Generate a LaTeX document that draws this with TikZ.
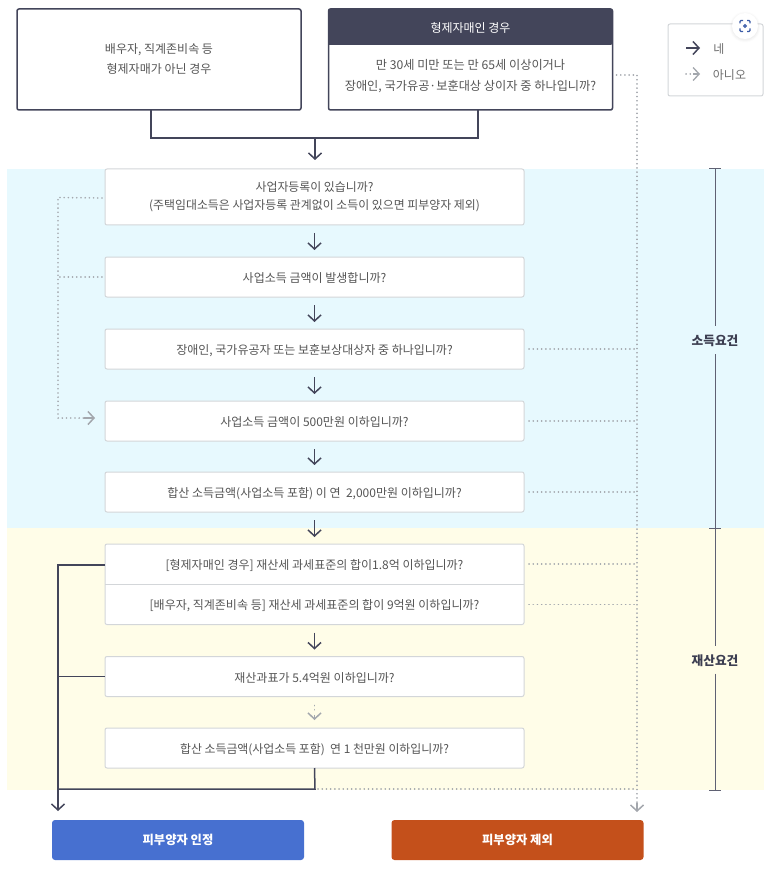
\documentclass[tikz,border=0pt]{standalone}
\usepackage{fontspec}
\setmainfont{Noto Sans CJK KR}
\usetikzlibrary{arrows.meta,calc}
\definecolor{ink}{HTML}{43455A}
\definecolor{txt}{HTML}{555555}
\definecolor{dotc}{HTML}{A3A7AD}
\definecolor{frame}{HTML}{D3D6D9}
\definecolor{bgblue}{HTML}{E7F9FE}
\definecolor{bgyel}{HTML}{FFFDE8}
\definecolor{okblue}{HTML}{4770D0}
\definecolor{noor}{HTML}{C4501B}
\tikzset{
  every node/.style={inner sep=0pt,outer sep=0pt,font=\fontsize{12}{21}\selectfont,text=txt,align=center},
  lowered/.style={execute at begin node={\rule{0pt}{12.6pt}}},
  topbox/.style={draw=ink,line width=1.5pt,fill=white,rounded corners=2pt,minimum width=284pt,minimum height=101pt},
  q/.style={draw=frame,line width=1pt,fill=white,rounded corners=2pt,minimum width=419pt,minimum height=40pt,lowered},
  qplain/.style={fill=white,minimum width=419pt,minimum height=40pt,lowered},
  result/.style={rounded corners=3pt,minimum width=252pt,minimum height=40pt,text=white,font=\fontsize{12.3}{14}\selectfont\bfseries},
  yes/.style={draw=ink,line width=1.5pt},
  yesarr/.style={yes,-{Straight Barb[length=6pt,width=13pt,line width=1.5pt]}},
  no/.style={draw=dotc,line width=1.7pt,line cap=round,dash pattern=on 0.1pt off 4.1pt},
  noarr/.style={draw=dotc,line width=1.3pt},
  notip/.style={draw=dotc,line width=1.5pt,-{Straight Barb[length=6pt,width=13pt,line width=1.5pt]}},
  brace/.style={draw=ink!85,line width=1pt},
  reqlabel/.style={font=\fontsize{12.7}{14}\selectfont\bfseries,text=ink!90!black,minimum height=28pt,minimum width=50pt}
}
\begin{document}
\begin{tikzpicture}[x=1pt,y=-1pt]
\useasboundingbox (0,0) rectangle (782,877);
% bands
\fill[bgblue] (7,169) rectangle (764,528);
\fill[bgyel] (7,528) rectangle (764,790);
% top boxes
\node[topbox,lowered,font=\fontsize{12}{20}\selectfont] (a) at (159,59.5) {배우자, 직계존비속 등\\형제자매가 아닌 경우};
\node[topbox] (b) at (470.5,59.5) {};
\fill[ink,rounded corners=2pt] (b.north west) -- (b.north east) -- ($(b.north east)+(0,36)$) [sharp corners] -- ($(b.north west)+(0,36)$) -- cycle;
\node[text=white,lowered] (bh) at (470.5,26.5) {형제자매인 경우};
\node[lowered,font=\fontsize{12.2}{21}\selectfont] (bt) at (470.5,76.5) {만 30세 미만 또는 만 65세 이상이거나\\장애인, 국가유공·보훈대상 상이자 중 하나입니까?};
% questions
\node[q,minimum height=56pt,font=\fontsize{11.9}{18}\selectfont] (s1) at (314.5,197) {사업자등록이 있습니까?\\(주택임대소득은 사업자등록 관계없이 소득이 있으면 피부양자 제외)};
\node[q] (s2) at (314.5,277) {사업소득 금액이 발생합니까?};
\node[q] (s3) at (314.5,349) {장애인, 국가유공자 또는 보훈보상대상자 중 하나입니까?};
\node[q] (s4) at (314.5,421) {사업소득 금액이 500만원 이하입니까?};
\node[q] (s5) at (314.5,492) {합산 소득금액(사업소득 포함) 이 연 \ 2,000만원 이하입니까?};
\node[qplain] (s6) at (314.5,564) {[형제자매인 경우] 재산세 과세표준의 합이1.8억 이하입니까?};
\node[qplain] (s7) at (314.5,604.5) {[배우자, 직계존비속 등] 재산세 과세표준의 합이 9억원 이하입니까?};
\draw[frame,line width=1pt,rounded corners=2pt] (s6.north west) rectangle (s7.south east);
\draw[frame,line width=1pt] (s6.south west) -- (s6.south east);
\node[q] (s8) at (314.5,676.5) {재산과표가 5.4억원 이하입니까?};
\node[q,font=\fontsize{11.9}{21}\selectfont] (s9) at (314.5,748) {합산 소득금액(사업소득 포함) \ 연 1 천만원 이하입니까?};
% results
\node[result,fill=okblue] (ok) at (178,840) {피부양자 인정};
\node[result,fill=noor] (ex) at (517.5,840) {피부양자 제외};
% merge at top
\coordinate (m) at (315,138);
\draw[yes] (151,110) -- (151,138) -- (478,138) -- (478,110);
\draw[yesarr] (m) -- (315,160);
% yes arrows between questions
\foreach \p/\n in {s1/s2,s2/s3,s3/s4,s4/s5,s5/s6,s7/s8}
  \draw[yesarr,shorten <=8pt,shorten >=7pt] (\p.south) -- (\n.north);
% dotted arrow s8 to s9
\draw[no,shorten <=9pt,shorten >=15pt] (s8.south) -- (s9.north);
\draw[notip,shorten <=18pt,shorten >=8pt] (s8.south) -- (s9.north);
% left no
\coordinate (lt) at (58,197.5);
\coordinate (lb) at (58,418);
\coordinate (lh) at (95,418);
\draw[no,shorten <=3pt] ($(s1.west)+(0,1)$) -- (lt) -- (lb) -- (84,418);
\draw[no,shorten <=3pt] (s2.west) -- (s2.west -| lt);
\draw[notip] (84,418) -- (lh);
% right no trunk
\coordinate (tt) at (637,75);
\coordinate (tb) at (637,803);
\coordinate (te) at (637,812);
\draw[no] (b.east |- tt) ++(4,0) -- (tt) -- (tb);
\draw[notip] (tb) -- (te);
\foreach \n in {s3,s4,s5,s6,s7}
  \draw[no,shorten <=5pt] (\n.east) -- (\n.east -| tt);
\draw[no] (318,789) -- (637,789);
% left yes trunk
\coordinate (yt) at (58,565);
\coordinate (yb) at (58,789);
\coordinate (ye) at (58,811);
\draw[yesarr] (s6.west |- yt) -- (yt) -- (ye);
\draw[yes] (s8.west) -- (s8.west -| yt);
\draw[yes] (s9.south) -- (315,789) -- (yb);
% brackets
\coordinate (t1) at (715,169);
\coordinate (t2) at (715,528);
\coordinate (t3) at (715,790);
\node[reqlabel,lowered] (r1) at (715,340) {소득요건};
\node[reqlabel,lowered] (r2) at (715,659.5) {재산요건};
\draw[brace] (t1) -- (r1);
\draw[brace] (r1) -- (t2);
\draw[brace] (t2) -- (r2);
\draw[brace] (r2) -- (t3);
\foreach \t in {t1,t2,t3}
  \draw[brace] ($(\t)+(-6,0)$) -- ($(\t)+(6,0)$);
% legend
\node[draw=frame,line width=1pt,fill=white,rounded corners=2pt,minimum width=95pt,minimum height=72pt] (lg) at (715.5,60) {};
\node[lowered,text=txt!85] (ly) at (719,48) {네};
\node[lowered,text=txt!85] (ln) at (729.5,74) {아니오};
\coordinate (la) at (686,48);
\coordinate (lc) at (686,74);
\draw[yes,-{Straight Barb[length=6pt,width=13pt,line width=1.5pt]}] (la) -- (700,48);
\draw[no] (lc) -- (693,74);
\draw[noarr,-{Straight Barb[length=6pt,width=13pt,line width=1.3pt]}] (693,74) -- (700,74);
% scan button
\foreach \r/\o in {15.5/.012,14.5/.018,13.5/.025}
  \fill[black,opacity=\o] (745,27) circle[radius=\r];
\fill[white] (745,26) circle[radius=13];
\begin{scope}[draw=okblue!80!black,line width=1.1pt,rounded corners=1pt]
\draw (740,23.5) -- (740,20.5) -- (743,20.5);
\draw (747,20.5) -- (750,20.5) -- (750,23.5);
\draw (750,28.5) -- (750,31.5) -- (747,31.5);
\draw (743,31.5) -- (740,31.5) -- (740,28.5);
\end{scope}
\draw[okblue!80!black,line width=1pt] (745,26) circle[radius=1.4];
\end{tikzpicture}
\end{document}
